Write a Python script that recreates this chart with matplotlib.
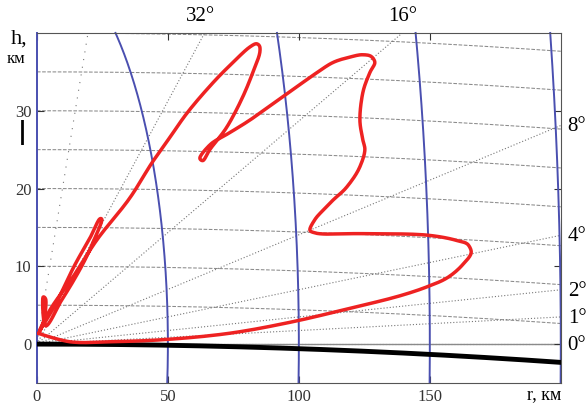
import numpy as np
import matplotlib.pyplot as plt

# coverage contour, range r (km) and height h (km)
cover_r = [0.4, 12.6, 27.9, 49.6, 73.7, 96.6, 119.5, 138.5, 149.2, 157.0, 162.5, 165.8,
           164.8, 160.5, 149.2, 124.4, 106.1, 104.2, 106.1, 109.2, 113.0, 118.3, 123.3,
           125.2, 124.4, 123.3, 124.4, 127.1, 129.0, 127.9, 124.4, 119.5, 113.0, 106.9,
           93.9, 81.3, 73.7, 66.0, 62.2, 63.4, 66.0, 72.5, 78.6, 82.4, 85.1, 85.1, 84.0,
           81.3, 74.8, 67.2, 57.3, 50.8, 43.9, 35.5, 22.9, 13.7, 5.0, 1.1,
           6.9, 14.5, 20.2, 24.0, 24.8, 22.1, 18.3, 13.7, 9.5, 3.1,
           2.3, 3.4, 2.7, 0.8]
cover_h = [1.4, 0.3, 0.3, 0.6, 1.4, 2.8, 4.6, 6.2, 7.4, 8.6, 10.2, 11.8,
           12.7, 13.3, 14.0, 14.2, 14.3, 14.7, 16.0, 17.2, 18.5, 20.2, 22.8,
           25.0, 26.3, 28.8, 32.3, 34.9, 36.2, 36.9, 37.2, 36.9, 36.2, 34.9,
           31.8, 28.8, 27.2, 25.6, 23.9, 23.6, 25.0, 27.9, 31.8, 34.9, 37.5, 38.2, 38.6,
           38.2, 36.2, 33.6, 29.7, 26.6, 23.3, 18.8, 13.4, 8.6, 4.4, 1.8,
           5.0, 10.2, 13.6, 16.1, 16.0, 13.6, 10.8, 8.0, 5.7, 2.4,
           6.0, 5.7, 3.1, 1.4]

ranges = [50, 100, 150, 200]            # slant range rings, km
heights = [5, 10, 15, 20, 25, 30, 35, 40]  # constant height lines, km
angles = [0, 1, 2, 4, 8, 16, 32, 64]    # elevation rays, deg
top_labels = [32, 16]
right_labels = [8, 4, 2, 1, 0]
k_re = 8500.0                           # 4/3 earth radius, km


def smooth(x, y, n=12):
    # centripetal catmull-rom through the read points, only for drawing
    p = np.column_stack([x, y]).astype(float)
    p = np.vstack([p[0], p, p[-1]])
    out = []
    for i in range(1, len(p) - 2):
        p0, p1, p2, p3 = p[i - 1], p[i], p[i + 1], p[i + 2]
        t0 = 0.0
        t1 = t0 + max(np.linalg.norm(p1 - p0), 1e-6) ** 0.5
        t2 = t1 + max(np.linalg.norm(p2 - p1), 1e-6) ** 0.5
        t3 = t2 + max(np.linalg.norm(p3 - p2), 1e-6) ** 0.5
        for t in np.linspace(t1, t2, n, endpoint=False):
            a1 = (t1 - t) / (t1 - t0) * p0 + (t - t0) / (t1 - t0) * p1
            a2 = (t2 - t) / (t2 - t1) * p1 + (t - t1) / (t2 - t1) * p2
            a3 = (t3 - t) / (t3 - t2) * p2 + (t - t2) / (t3 - t2) * p3
            b1 = (t2 - t) / (t2 - t0) * a1 + (t - t0) / (t2 - t0) * a2
            b2 = (t3 - t) / (t3 - t1) * a2 + (t - t1) / (t3 - t1) * a3
            out.append((t2 - t) / (t2 - t1) * b1 + (t - t1) / (t2 - t1) * b2)
    out.append(p[-2])
    out = np.array(out)
    return out[:, 0], out[:, 1]


plt.rcParams['font.family'] = ['Liberation Serif', 'DejaVu Serif']

fig = plt.figure(figsize=(5.86, 4.07), dpi=100)
ax = fig.add_axes([0.063, 0.059, 0.894, 0.860])
ax.set_xlim(0, 200)
ax.set_ylim(-5, 40)

r = np.linspace(0, 200, 400)

# constant height lines
for h in heights:
    ax.plot(r, h - r**2 / (2 * k_re), color='#8a8a8a', lw=0.75, ls=(0, (3.5, 1.5)), zorder=1)

# elevation rays
for a in angles:
    ls = (0, (1, 6)) if a == 64 else (0, (1, 1.8))
    ax.plot(r, r * np.tan(np.radians(a)), color='#777777', lw=0.8, ls=ls, zorder=1)

ax.axhline(0, color='#8a8a8a', lw=1.0, zorder=1)

# earth surface
ax.plot(r, -r**2 / (2 * k_re), color='black', lw=3.5, zorder=3)

# range rings
hh = np.linspace(-5, 40, 200)
for R in ranges:
    ax.plot(np.sqrt(R**2 - hh**2), hh, color='#4a4fb0', lw=1.4, zorder=2, clip_on=False)

# coverage
sx, sy = smooth(cover_r, cover_h)
ax.plot(sx, sy, color='#ee2222', lw=2.5, zorder=4, solid_joinstyle='round',
        solid_capstyle='round')

for a in top_labels:
    ax.annotate('%d°' % a, (40 / np.tan(np.radians(a)), 40), xytext=(-3 if a == 32 else 0, 12),
                textcoords='offset points', ha='center', va='center', fontsize=15)
for a in right_labels:
    ax.annotate('%d°' % a, (200, 200 * np.tan(np.radians(a))), xytext=(5, -1),
                textcoords='offset points', ha='left', va='center', fontsize=15,
                annotation_clip=False)

ax.set_xticks([0, 50, 100, 150])
ax.set_yticks([0, 10, 20, 30])
ax.tick_params(direction='in', length=5, top=True, right=True, labelsize=12,
               colors='#333333', pad=4)
for s in ax.spines.values():
    s.set_color('#555555')
ax.spines['left'].set_color('#4a4fb0')
ax.spines['left'].set_linewidth(1.4)

fig.text(0.018, 0.905, 'h,', fontsize=16, ha='left', va='center')
fig.text(0.012, 0.855, 'км', fontsize=12, ha='left', va='center')
fig.text(0.038, 0.675, '|', fontsize=18, ha='center', va='center', family='DejaVu Sans',
         fontweight='bold')
fig.text(0.90, 0.030, 'r, км', fontsize=13, ha='left', va='center')

plt.savefig('out.png', dpi=100)
